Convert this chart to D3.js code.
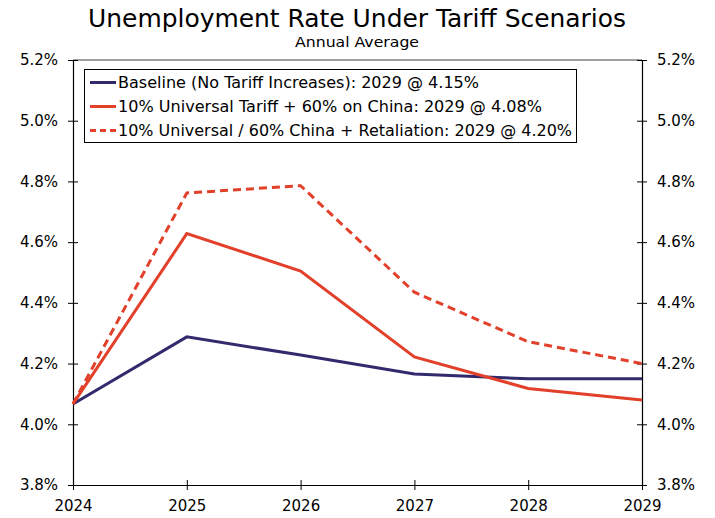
<!DOCTYPE html>
<html><head><meta charset="utf-8">
<script src="https://cdn.jsdelivr.net/npm/d3@7"></script>
<style>body{margin:0;background:#fff}svg{display:block}text{font-family:"DejaVu Sans",Verdana,sans-serif}</style>
</head><body>
<script>
const years = [2024, 2025, 2026, 2027, 2028, 2029];
const baseline = [4.067, 4.288, 4.228, 4.166, 4.150, 4.150];
const universal = [4.067, 4.628, 4.505, 4.222, 4.118, 4.080];
const retaliation = [4.067, 4.762, 4.786, 4.435, 4.272, 4.200];
const yTicks = [3.8, 4.0, 4.2, 4.4, 4.6, 4.8, 5.0, 5.2];
const seriesNames = [
  "Baseline (No Tariff Increases): 2029 @ 4.15%",
  "10% Universal Tariff + 60% on China: 2029 @ 4.08%",
  "10% Universal / 60% China + Retaliation: 2029 @ 4.20%"
];
const legendLens = [361, 424, 454];
const W = 715, H = 518;
const m = {l: 73, r: 642, t: 60, b: 485};
const svg = d3.select("body").append("svg").attr("width", W).attr("height", H);
const x = d3.scaleLinear().domain([2024, 2029]).range([m.l, m.r]);
const y = d3.scaleLinear().domain([3.8, 5.2]).range([m.b, m.t]);

svg.append("text").attr("x", 357).attr("y", 27).attr("text-anchor", "middle")
  .style("font-size", "25px").attr("textLength", 538).attr("lengthAdjust","spacingAndGlyphs").text("Unemployment Rate Under Tariff Scenarios");
svg.append("text").attr("x", 357).attr("y", 47).attr("text-anchor", "middle")
  .style("font-size", "14px").attr("textLength", 124).attr("lengthAdjust","spacingAndGlyphs").text("Annual Average");

svg.append("line").attr("x1", m.l).attr("x2", m.r).attr("y1", m.t).attr("y2", m.t).attr("stroke", "#808080").attr("stroke-width", 1.5);

const fmt = d => d.toFixed(1) + "%";
const yl = svg.append("g").attr("transform", `translate(${m.l},0)`)
  .call(d3.axisLeft(y).tickValues(yTicks).tickFormat(fmt).tickSizeInner(5).tickSizeOuter(0).tickPadding(10));
const yr = svg.append("g").attr("transform", `translate(${m.r},0)`)
  .call(d3.axisRight(y).tickValues(yTicks).tickFormat(fmt).tickSizeInner(5).tickSizeOuter(0).tickPadding(10));
[yl, yr].forEach(g => {
  g.select(".domain").attr("stroke", "#000").attr("stroke-width", 1.2);
  g.selectAll(".tick line").attr("x1", -5).attr("x2", 5).attr("stroke", "#000");
  g.selectAll(".tick text").style("font-size", "15px").attr("fill", "#000");
});
const xa = svg.append("g").attr("transform", `translate(0,${m.b})`)
  .call(d3.axisBottom(x).tickValues(years).tickFormat(d3.format("d")).tickSizeInner(5).tickSizeOuter(0).tickPadding(10));
xa.select(".domain").attr("stroke", "#000").attr("stroke-width", 1.2);
xa.selectAll(".tick line").attr("y1", -5).attr("y2", 5).attr("stroke", "#000");
xa.selectAll(".tick text").style("font-size", "15px").attr("fill", "#000");

const line = d3.line().x((d, i) => x(years[i])).y(d => y(d));
const styles = [
  {data: baseline, color: "#312a6c", dash: null},
  {data: universal, color: "#e2402a", dash: null},
  {data: retaliation, color: "#e2402a", dash: "8,5"}
];
styles.forEach(s => {
  svg.append("path").datum(s.data).attr("d", line).attr("fill", "none")
    .attr("stroke", s.color).attr("stroke-width", 3).attr("stroke-dasharray", s.dash)
    .attr("stroke-linejoin", "miter");
});

const lg = svg.append("g");
lg.append("rect").attr("x", 84.5).attr("y", 69.5).attr("width", 492).attr("height", 73)
  .attr("fill", "#fff").attr("stroke", "#000").attr("stroke-width", 1);
seriesNames.forEach((n, i) => {
  const yy = 82.5 + i * 24;
  lg.append("line").attr("x1", 90).attr("x2", 116).attr("y1", yy).attr("y2", yy)
    .attr("stroke", styles[i].color).attr("stroke-width", 3).attr("stroke-dasharray", styles[i].dash ? "6,4" : null);
  lg.append("text").attr("x", 118).attr("y", yy + 5.5).style("font-size", "15px")
    .attr("textLength", legendLens[i]).attr("lengthAdjust", "spacingAndGlyphs").text(n);
});
</script>
</body></html>
